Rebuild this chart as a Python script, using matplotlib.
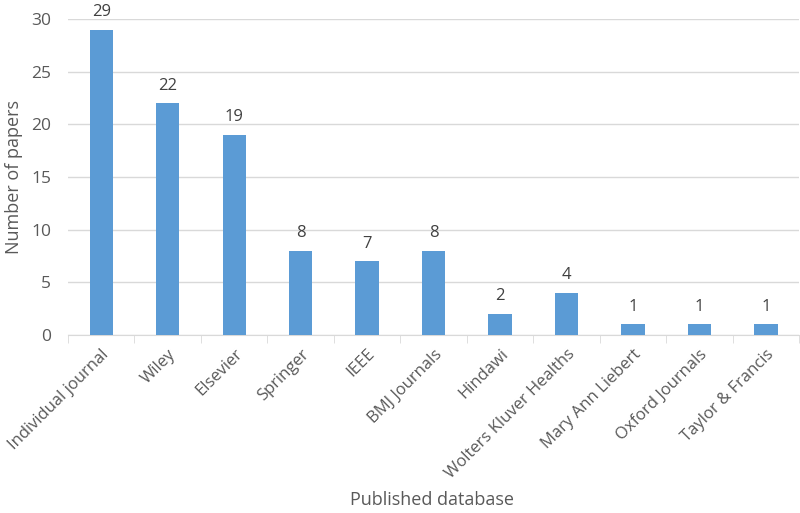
import matplotlib
matplotlib.use('Agg')
import matplotlib.pyplot as plt
import numpy as np

plt.rcParams['font.family'] = ['Open Sans', 'DejaVu Sans']

databases = ['Individual journal', 'Wiley', 'Elsevier', 'Springer', 'IEEE',
             'BMJ Journals', 'Hindawi', 'Wolters Kluver Healths',
             'Mary Ann Liebert', 'Oxford Journals', 'Taylor & Francis']
papers = [29, 22, 19, 8, 7, 8, 2, 4, 1, 1, 1]

fig = plt.figure(figsize=(8, 5.13), dpi=100)
ax = fig.add_axes([0.085, 0.347, 0.914, 0.616])

x = np.arange(len(databases))
bars = ax.bar(x, papers, width=0.35, color='#5B9BD5', zorder=3)
for xi, v in zip(x, papers):
    ax.text(xi, v + 0.9, str(v), ha='center', va='bottom', fontsize=12, color='#404040')

ax.set_xlim(-0.5, len(databases) - 0.5)
ax.set_ylim(0, 30)
ax.set_yticks(range(0, 31, 5))
ax.yaxis.grid(True, color='#d9d9d9', linewidth=1, zorder=0)
ax.set_xticks(x)
ax.set_xticklabels(databases, rotation=45, ha='right', rotation_mode='anchor',
                   fontsize=12, color='#595959')
ax.set_xticks(np.arange(-0.5, len(databases), 1), minor=True)
ax.tick_params(axis='x', which='major', length=0, pad=8)
ax.tick_params(axis='x', which='minor', length=6, color='#d9d9d9')
ax.tick_params(axis='y', length=0, labelsize=12.5, labelcolor='#595959', pad=12)

for s in ['top', 'right', 'left']:
    ax.spines[s].set_visible(False)
ax.spines['bottom'].set_color('#d9d9d9')

ax.set_ylabel('Number of papers', fontsize=13, color='#595959', labelpad=6)
fig.text(0.54, 0.025, 'Published database', ha='center', va='center',
         fontsize=13, color='#595959')

fig.savefig('out.png', dpi=100)
